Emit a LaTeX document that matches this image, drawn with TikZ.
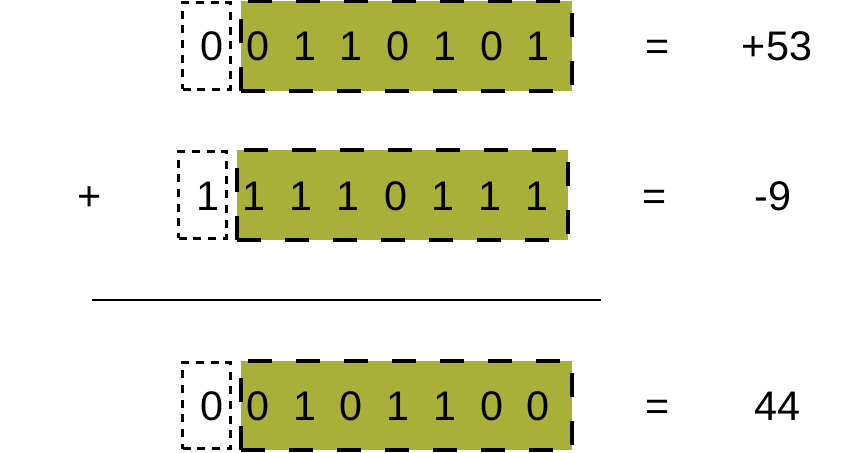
\documentclass[tikz,border=0pt]{standalone}
\usepackage{fontspec}
\setmainfont{Liberation Sans}
\usepackage{tikz}
\usetikzlibrary{positioning}
\definecolor{BitGreen}{RGB}{169,176,57}
\newcommand{\bitrow}[6]{%
  \node[signbox] (#1s) at (206.5+#2,#3) {};
  \node[databox] (#1d) at (406.5+#2,#3) {};
  \node[bit] (#1sb) at (212+#2,#3+15) {#4};
  \foreach \b [count=\i from 0] in {#5}
    \node[bit] (#1b\i) at (258+#2+\i*#6,#3+15) {\b};}

\begin{document}
\begin{tikzpicture}[x=0.75pt,y=-0.75pt,
  bit/.style={anchor=base,inner sep=0pt,font=\fontsize{31}{36}\selectfont},
  signbox/.style={draw,line width=2.2pt,dash pattern=on 6pt off 5pt,
    minimum width=36pt,minimum height=65pt,inner sep=0pt},
  databox/.style={draw,fill=BitGreen,line width=3pt,dash pattern=on 18pt off 18pt,
    minimum width=248pt,minimum height=67pt,inner sep=0pt}]
  \useasboundingbox (0,0) rectangle (867,453);
  \bitrow{r1}{0}{46}{0}{0,1,1,0,1,0,1}{46.7}
  \bitrow{r2}{-4}{195}{1}{1,1,1,0,1,1,1}{47.2}
  \bitrow{r3}{0}{405.5}{0}{0,1,0,1,1,0,0}{46.7}
  \node[bit] (plus) at (90,210) {+};
  \node[bit] (eq1) at (658,61) {=};
  \node[bit] (eq2) at (655,210) {=};
  \node[bit] (eq3) at (658,420) {=};
  \node[bit] (val1) at (777,61) {+53};
  \node[bit] (val2) at (773,210) {-9};
  \node[bit] (val3) at (777,420) {44};
  \coordinate (ruleL) at (92,300);
  \coordinate (ruleR) at (601,300);
  \draw[line width=1.5pt] (ruleL) -- (ruleR);
\end{tikzpicture}
\end{document}
